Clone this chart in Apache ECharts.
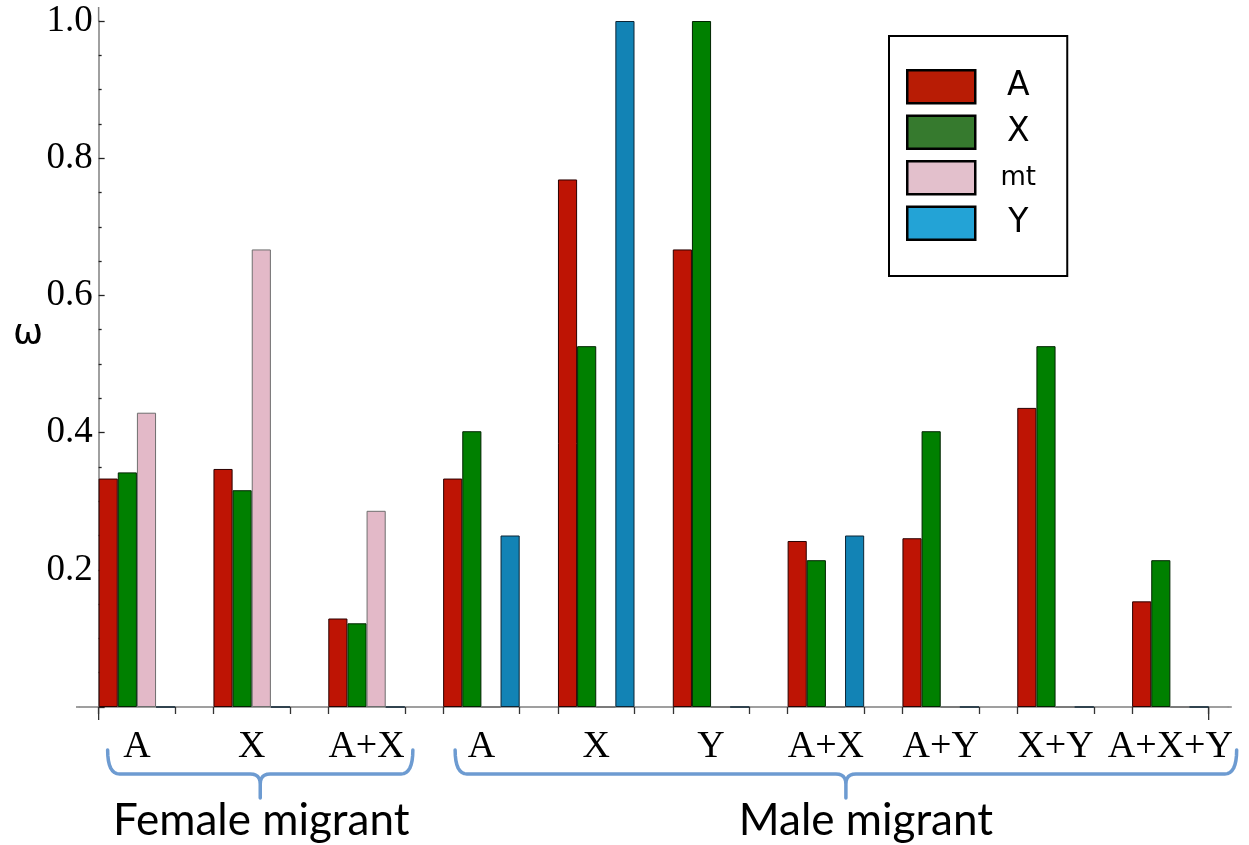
<!DOCTYPE html>
<html><head><meta charset="utf-8">
<script src="https://cdn.jsdelivr.net/npm/echarts@6/dist/echarts.min.js"></script>
<style>html,body{margin:0;padding:0;background:#fff}#c{width:1249px;height:845px}</style>
</head><body><div id="c"></div>
<script>
// ---- data ----
const categories = ['A', 'X', 'A+X', 'A', 'X', 'Y', 'A+X', 'A+Y', 'X+Y', 'A+X+Y'];
const seriesNames = ['A', 'X', 'mt', 'Y'];
const valuesA  = [0.333, 0.347, 0.129, 0.333, 0.769, 0.667, 0.242, 0.246, 0.436, 0.154];
const valuesX  = [0.342, 0.316, 0.122, 0.402, 0.526, 1.000, 0.214, 0.402, 0.526, 0.214];
const valuesMt = [0.429, 0.667, 0.286, 0, 0, 0, 0, 0, 0, 0];
const valuesY  = [0, 0, 0, 0.250, 1.000, 0, 0.250, 0, 0, 0];
const yTickLabels = [0.2, 0.4, 0.6, 0.8, 1.0];
const groupNames = ['Female migrant', 'Male migrant'];
const groupFirst = [0, 3];
const groupLast = [2, 9];

// ---- layout / style ----
const W = 1249, H = 845;
const gridLeft = 79.5, gridRight = 21.2, gridTop = 21, gridBottom = 138;
const catW = (W - gridLeft - gridRight) / categories.length;
const barW = catW / 6;
const serif = 'Liberation Serif';
const tickPos = [];
categories.forEach((c, k) => { tickPos.push(k + 1 / 6, k + 5 / 6); });

const colors = ['#BE1404', '#008000', '#E3B9C8', '#1283B5'];
const borders = ['#2a0000', '#002400', '#6e6e6e', '#0c2535'];
const legendColors = ['#B81C05', '#367A2E', '#E3C0CC', '#23A3D6'];
const seriesData = [valuesA, valuesX, valuesMt, valuesY];

const chart = echarts.init(document.getElementById('c'), null, {renderer: 'canvas'});

const option = {
  animation: false,
  backgroundColor: '#fff',
  grid: {left: gridLeft, right: gridRight, top: gridTop, bottom: gridBottom, containLabel: false, outerBoundsMode: 'none'},
  legend: {
    orient: 'vertical', left: 889, top: 36,
    padding: [33, 11, 35, 17], itemGap: 10, itemWidth: 68, itemHeight: 33,
    icon: 'rect', backgroundColor: '#fff', borderColor: '#000', borderWidth: 2,
    selectedMode: false,
    data: seriesNames.map((n, i) => ({name: n, itemStyle: {color: legendColors[i], borderColor: '#000', borderWidth: 2.5}})),
    formatter: n => (n === 'mt' ? '{s|' : '{t|') + n + '}',
    textStyle: {
      rich: {
        t: {width: 76, align: 'center', fontFamily: 'DejaVu Sans', fontSize: 33, color: '#000', lineHeight: 33},
        s: {width: 76, align: 'center', fontFamily: 'DejaVu Sans', fontSize: 26, color: '#000', lineHeight: 33}
      }
    }
  },
  xAxis: [
    {
      type: 'category', data: categories, position: 'bottom',
      axisLine: {show: true, lineStyle: {color: '#808080', width: 1.5}},
      axisTick: {show: false},
      axisLabel: {interval: 0, margin: 21, fontFamily: serif, fontSize: 38, color: '#000'},
      splitLine: {show: false}
    },
    {
      type: 'value', min: 0, max: categories.length, position: 'bottom',
      axisLine: {show: false},
      axisLabel: {show: false},
      splitLine: {show: false},
      axisTick: {show: true, length: 7, customValues: tickPos, lineStyle: {color: '#333', width: 1.3}}
    }
  ],
  yAxis: {
    type: 'value', min: 0, max: 1, interval: 0.2, position: 'left', offset: -barW,
    axisLine: {show: true, onZero: false, lineStyle: {color: '#808080', width: 1.5}},
    axisTick: {show: true, inside: true, length: 6, lineStyle: {color: '#222', width: 1.3}},
    minorTick: {show: true, splitNumber: 4, length: 3, lineStyle: {color: '#222', width: 1.3}},
    splitLine: {show: false}, minorSplitLine: {show: false},
    axisLabel: {
      margin: 6, fontFamily: serif, fontSize: 37, color: '#000',
      formatter: v => yTickLabels.some(t => Math.abs(t - v) < 1e-9) ? v.toFixed(1) : ''
    }
  },
  series: seriesNames.map((n, i) => ({
    name: n, type: 'bar', xAxisIndex: 0, yAxisIndex: 0,
    data: seriesData[i], barGap: '0%', barCategoryGap: '33.333%',
    itemStyle: {color: colors[i], borderColor: borders[i], borderWidth: 1}
  }))
};
chart.setOption(option);

// annotations positioned from the axes
const px = u => chart.convertToPixel({xAxisIndex: 1}, u);
const py = v => chart.convertToPixel({yAxisIndex: 0}, v);
const y0 = py(0), y1 = py(1);
const xStart = px(1 / 6), xEnd = px(categories.length - 1 / 6);
const xL = px(0), xR = px(categories.length);
const braceColor = '#6D9BD1';

function quad(p0, c, p1, n, out) {
  for (let i = 1; i <= n; i++) {
    const t = i / n, a = (1 - t) * (1 - t), b = 2 * (1 - t) * t, d = t * t;
    out.push([a * p0[0] + b * c[0] + d * p1[0], a * p0[1] + b * c[1] + d * p1[1]]);
  }
}
function bracePoints(L, R, T, top, mid, tip) {
  const pts = [[L, top]];
  quad([L, top], [L, mid], [L + 12, mid], 8, pts);
  pts.push([T - 10, mid]);
  quad([T - 10, mid], [T, mid], [T, mid + 10], 6, pts);
  pts.push([T, tip]);
  pts.push([T, mid + 10]);
  quad([T, mid + 10], [T, mid], [T + 10, mid], 6, pts);
  pts.push([R - 12, mid]);
  quad([R - 12, mid], [R, mid], [R, top], 8, pts);
  return pts;
}
const graphics = [
  {type: 'line', shape: {x1: xL - 3.5, y1: y0, x2: xL, y2: y0}, style: {stroke: '#808080', lineWidth: 1.5}, silent: true},
  {type: 'line', shape: {x1: xR, y1: y0, x2: xR + 4, y2: y0}, style: {stroke: '#808080', lineWidth: 1.5}, silent: true},
  {type: 'line', shape: {x1: xStart, y1: y1 - 14, x2: xStart, y2: y1}, style: {stroke: '#808080', lineWidth: 1.5}, silent: true},
  {type: 'line', shape: {x1: xStart, y1: y0, x2: xStart, y2: y0 + 13}, style: {stroke: '#333', lineWidth: 1.3}, silent: true},
  {type: 'line', shape: {x1: xEnd, y1: y0, x2: xEnd, y2: y0 + 13}, style: {stroke: '#333', lineWidth: 1.3}, silent: true},
  {type: 'text', style: {text: 'ω', x: 28, y: 335, fontFamily: 'DejaVu Sans', fontSize: 36, fill: '#000', align: 'center', verticalAlign: 'middle'}, silent: true}
];
const braceOff = [[9, 8, 1], [12, 28, 20]];
groupNames.forEach((name, g) => {
  const L = px(groupFirst[g] + 1 / 6) + braceOff[g][0];
  const R = px(groupLast[g] + 5 / 6) + braceOff[g][1];
  const T = (L + R) / 2;
  graphics.push({type: 'polyline', shape: {points: bracePoints(L, R, T, y0 + 43, y0 + 67, y0 + 91)},
    style: {stroke: braceColor, lineWidth: 3.5, fill: null, lineJoin: 'round', lineCap: 'round'}, silent: true});
  graphics.push({type: 'text', style: {text: name, x: T + braceOff[g][2], y: y0 + 114, fontFamily: 'Lato', fontSize: 44, fill: '#000', align: 'center', verticalAlign: 'middle'}, silent: true});
});
chart.setOption({graphic: graphics});
</script>
</body></html>
